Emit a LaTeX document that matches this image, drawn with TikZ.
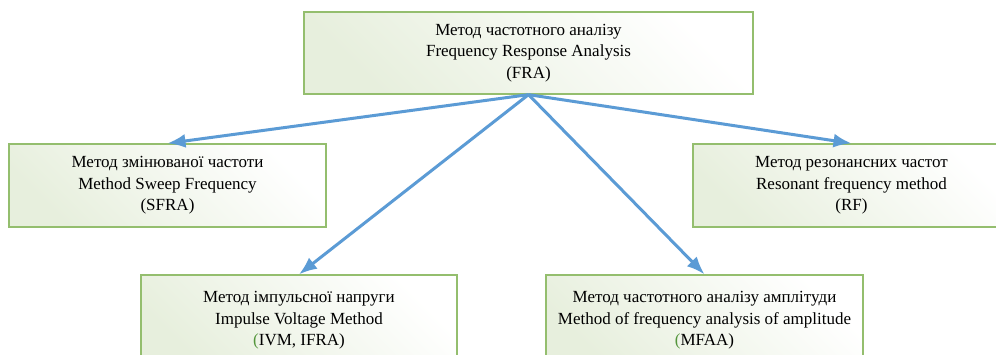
\documentclass[tikz,border=0pt]{standalone}
\usepackage{xcolor}
\usepackage{fontspec}
\setmainfont{Liberation Serif}
\usetikzlibrary{arrows.meta}
\definecolor{boxline}{RGB}{148,190,110}
\definecolor{boxfill}{RGB}{231,239,221}
\definecolor{linkblue}{RGB}{91,155,213}
\definecolor{parengreen}{RGB}{84,150,60}

\begin{document}
\begin{tikzpicture}[x=1pt, y=-1pt,
    method/.style={rectangle, draw=boxline, line width=1.3pt, bottom color=boxfill, top color=white, shading angle=-45, align=center, font=\fontsize{17}{21.5}\selectfont, inner sep=0pt},
    link/.style={-{Latex[length=18pt, width=14pt]}, draw=linkblue, line width=3pt}
]
    \clip (0,0) rectangle (996,354);
    \fill[white] (0,0) rectangle (996,354);

    % Main method
    \node[method, minimum width=449pt, minimum height=82pt] (fra) at (528.5,53) {Метод частотного аналізу\\Frequency Response Analysis\\(FRA)};

    % Methods of the second row
    \node[method, minimum width=317pt, minimum height=83pt] (sfra) at (167.5,185.5) {Метод змінюваної частоти\\Method Sweep Frequency\\(SFRA)};
    \node[method, minimum width=317pt, minimum height=83pt] (rf) at (851.5,185.5) {Метод резонансних частот\\Resonant frequency method\\(RF)};

    % Methods of the third row
    \node[method, minimum width=316pt, minimum height=91pt] (ivm) at (299,320.5) {Метод імпульсної напруги\\Impulse Voltage Method\\\textcolor{parengreen}{(}IVM, IFRA)};
    \node[method, minimum width=317pt, minimum height=91pt] (mfaa) at (704.5,320.5) {Метод частотного аналізу амплітуди\\Method of frequency analysis of amplitude\\\textcolor{parengreen}{(}MFAA)};

    % Links
    \draw[link] (fra.south) -- (sfra.north);
    \draw[link] (fra.south) -- (rf.north);
    \draw[link] (fra.south) -- (ivm.north);
    \draw[link] (fra.south) -- (mfaa.north);
\end{tikzpicture}
\end{document}
